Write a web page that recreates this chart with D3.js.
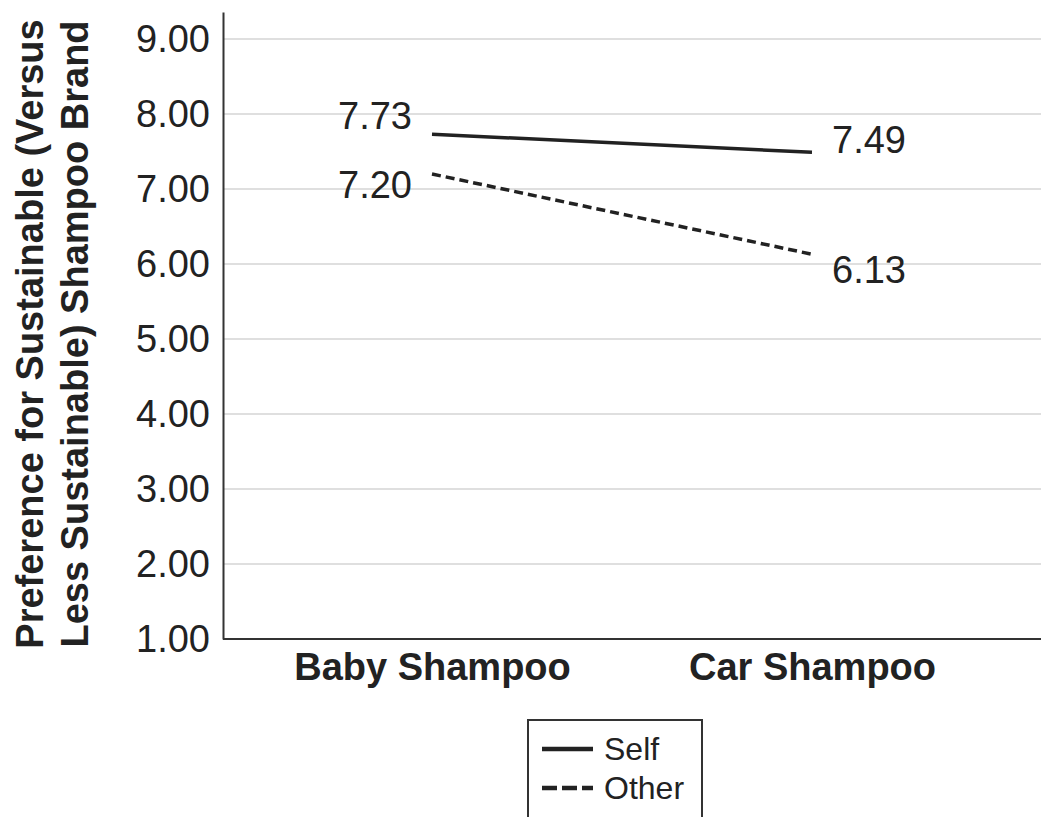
<!DOCTYPE html>
<html><head><meta charset="utf-8">
<script src="https://cdn.jsdelivr.net/npm/d3@7"></script>
<style>
html,body{margin:0;padding:0;background:#fff;}
svg{display:block;font-family:"Liberation Sans",Arial,sans-serif;}
</style></head>
<body>
<svg id="chart" width="1041" height="817"></svg>
<script>
// ---- data ----
const categories = ["Baby Shampoo", "Car Shampoo"];
const seriesNames = ["Self", "Other"];
const selfValues = [7.73, 7.49];
const otherValues = [7.20, 6.13];
const yTicks = [1, 2, 3, 4, 5, 6, 7, 8, 9];
const yTitleLines = ["Preference for Sustainable (Versus", "Less Sustainable) Shampoo Brand"];

(function () {
const series = [
  {name: seriesNames[0], values: selfValues, dash: null, legendDash: null,
   labelDy: [-5, 1], labelSide: ["left", "right"]},
  {name: seriesNames[1], values: otherValues, dash: "9,5", legendDash: "15,5",
   labelDy: [24, 29], labelSide: ["left", "right"]}
];

const svg = d3.select("#chart");
const ink = "#222";
const mLeft = 223, mBottom = 639, mTop = 12, mRight = 1041;

const x = d3.scalePoint().domain(categories).range([mLeft, 1021]).padding(0.55);
const y = d3.scaleLinear().domain([1, 9.36]).range([mBottom, mTop]);

// gridlines
svg.append("g").selectAll("line").data(yTicks.filter(d => d > 1)).join("line")
  .attr("x1", mLeft).attr("x2", mRight)
  .attr("y1", d => y(d)).attr("y2", d => y(d))
  .attr("stroke", "#d4d4d4").attr("stroke-width", 1.6);

// y axis
const yAxis = svg.append("g").attr("transform", `translate(${mLeft},0)`)
  .call(d3.axisLeft(y).tickValues(yTicks).tickFormat(d3.format(".2f")).tickSize(0).tickPadding(13));
yAxis.select(".domain").attr("stroke", "#333").attr("stroke-width", 2);
yAxis.selectAll("text").attr("font-size", 38).attr("fill", ink)
  .attr("font-family", "'Liberation Sans',Arial,sans-serif");

// x axis
const xAxis = svg.append("g").attr("transform", `translate(0,${mBottom})`)
  .call(d3.axisBottom(x).tickSize(0).tickPadding(14));
xAxis.select(".domain").attr("d", `M${mLeft},0H${mRight}`).attr("stroke", "#333").attr("stroke-width", 2);
xAxis.selectAll("text").attr("font-size", 38).attr("font-weight", "bold").attr("fill", ink)
  .attr("font-family", "'Liberation Sans',Arial,sans-serif");

// y title
const title = svg.append("text")
  .attr("transform", `translate(0,334) rotate(-90)`)
  .attr("text-anchor", "middle").attr("font-size", 38).attr("font-weight", "bold").attr("fill", ink);
title.selectAll("tspan").data(yTitleLines).join("tspan")
  .attr("x", 0).attr("y", (d, i) => 43 + i * 45).text(d => d);

// lines
const line = d3.line().x((d, i) => x(categories[i])).y(d => y(d));
series.forEach(s => {
  svg.append("path").datum(s.values).attr("d", line)
    .attr("fill", "none").attr("stroke", ink).attr("stroke-width", 3.5)
    .attr("stroke-dasharray", s.dash);
  svg.append("g").selectAll("text").data(s.values).join("text")
    .attr("x", (d, i) => s.labelSide[i] === "left" ? x(categories[i]) - 20 : x(categories[i]) + 20)
    .attr("y", (d, i) => y(d) + s.labelDy[i])
    .attr("text-anchor", (d, i) => s.labelSide[i] === "left" ? "end" : "start")
    .attr("font-size", 38).attr("fill", ink)
    .text(d => d3.format(".2f")(d));
});

// legend
const lg = svg.append("g");
lg.append("rect").attr("x", 528).attr("y", 720).attr("width", 174).attr("height", 120)
  .attr("fill", "#fff").attr("stroke", "#333").attr("stroke-width", 2);
series.forEach((s, i) => {
  const ly = 749 + i * 39;
  lg.append("line").attr("x1", 542).attr("x2", 593).attr("y1", ly).attr("y2", ly)
    .attr("stroke", ink).attr("stroke-width", 4.5).attr("stroke-dasharray", s.legendDash);
  lg.append("text").attr("x", 604).attr("y", ly + 11).attr("font-size", 32).attr("fill", ink).text(s.name);
});
})();
</script>
</body></html>
